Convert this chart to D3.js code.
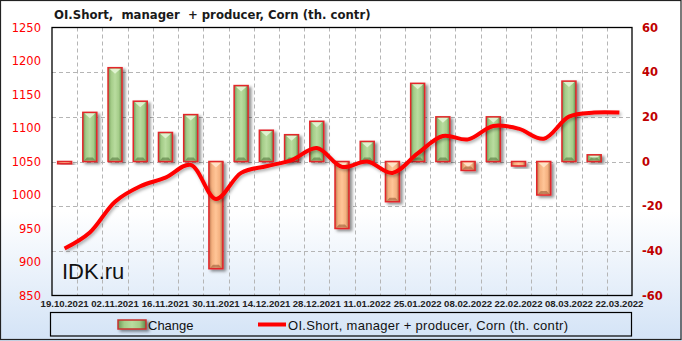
<!DOCTYPE html>
<html><head><meta charset="utf-8">
<script src="https://cdn.jsdelivr.net/npm/d3@7"></script>
<style>
html,body{margin:0;padding:0;background:#fff;}
svg{display:block;}
</style></head>
<body>
<script>
const dates = ["19.10.2021","26.10.2021","02.11.2021","09.11.2021","16.11.2021","23.11.2021","30.11.2021","07.12.2021","14.12.2021","21.12.2021","28.12.2021","04.01.2022","11.01.2022","18.01.2022","25.01.2022","01.02.2022","08.02.2022","15.02.2022","22.02.2022","01.03.2022","08.03.2022","15.03.2022","22.03.2022"];
const change = [-1,22,42,27,13,21,-48,34,14,12,18,-30,9,-18,35,20,-4,20,-2,-15,36,3,0];
const oi = [920,944,990,1013,1026,1045,994,1033,1043,1052,1070,1042,1050,1033,1062,1088,1083,1103,1099,1084,1117,1123,1123];
const leftTicks = [850,900,950,1000,1050,1100,1150,1200,1250];
const rightTicks = [-60,-40,-20,0,20,40,60];
const title = "OI.Short,  manager  + producer, Corn (th. contr)";
const legendBar = "Change";
const legendLine = "OI.Short, manager + producer, Corn (th. contr)";

const W = 682, H = 341;
const pl = 52, pr = 632, pt = 27.5, pb = 295.5;

const svg = d3.select("body").append("svg").attr("width", W).attr("height", H);
const defs = svg.append("defs");

const bg = defs.append("linearGradient").attr("id","bg").attr("x1",0).attr("y1",0).attr("x2",0).attr("y2",1);
bg.append("stop").attr("offset","0.62").attr("stop-color","#ffffff");
bg.append("stop").attr("offset","1").attr("stop-color","#d3e3f6");

function hgrad(id, stops){
  const g = defs.append("linearGradient").attr("id",id).attr("x1",0).attr("y1",0).attr("x2",1).attr("y2",0);
  stops.forEach(s=>g.append("stop").attr("offset",s[0]).attr("stop-color",s[1]));
}
hgrad("gGreen",[[0,"#6e9657"],[0.22,"#a4cc88"],[0.5,"#b9dc9f"],[0.78,"#a4cc88"],[1,"#5f8749"]]);
hgrad("gOrange",[[0,"#b8734b"],[0.22,"#f4b07f"],[0.5,"#ffc597"],[0.78,"#f4b07f"],[1,"#a9653f"]]);

const sh = defs.append("filter").attr("id","shadow").attr("x","-50%").attr("y","-50%").attr("width","200%").attr("height","200%");
sh.append("feDropShadow").attr("dx",2.5).attr("dy",2).attr("stdDeviation",1.8).attr("flood-color","#000").attr("flood-opacity",0.45);
const sh2 = defs.append("filter").attr("id","lshadow").attr("x","-10%").attr("y","-50%").attr("width","120%").attr("height","200%");
sh2.append("feDropShadow").attr("dx",1.5).attr("dy",2).attr("stdDeviation",1.5).attr("flood-color","#000").attr("flood-opacity",0.3);

// background + outer border
svg.append("rect").attr("x",0).attr("y",0).attr("width",W).attr("height",H).attr("fill","url(#bg)");
svg.append("rect").attr("x",0.5).attr("y",0.5).attr("width",W-1.5).attr("height",H-2).attr("fill","none").attr("stroke","#222").attr("stroke-width",1.2);

const x = d3.scaleBand().domain(dates).range([pl, pr]).padding(0);
const yL = d3.scaleLinear().domain([850,1250]).range([pb, pt]);
const yR = d3.scaleLinear().domain([-60,60]).range([pb, pt]);
const bw = 14;

// grid
const grid = svg.append("g").attr("stroke","#b5b5b5").attr("stroke-width",1).attr("stroke-dasharray","4,3");
rightTicks.filter(t=>t>-60 && t<60).forEach(t=>{
  grid.append("line").attr("x1",pl).attr("x2",pr).attr("y1",Math.round(yR(t))+0.5).attr("y2",Math.round(yR(t))+0.5);
});
dates.slice(1).forEach(d=>{
  const xx = Math.round(x(d))+0.5;
  grid.append("line").attr("x1",xx).attr("x2",xx).attr("y1",pt).attr("y2",pb);
});

// watermark
svg.append("text").attr("x",62).attr("y",279).attr("font-family","'Liberation Sans', Arial, sans-serif")
  .attr("font-size",22).attr("fill","#111").text("IDK.ru");

// bars
const bars = svg.append("g");
dates.forEach((d,i)=>{
  const v = change[i];
  if (v === 0) return;
  const cx = x(d) + x.bandwidth()/2;
  const y0 = yR(0), y1 = yR(v);
  const top = Math.min(y0,y1), h = Math.abs(y1-y0);
  const pos = v > 0;
  const g = bars.append("g").attr("filter","url(#shadow)");
  g.append("rect").attr("x",cx-bw/2).attr("y",top).attr("width",bw).attr("height",h)
    .attr("fill", pos ? "url(#gGreen)" : "url(#gOrange)");
  if (h > 6) {
    const tri = Math.min(5, h/2);
    g.append("path").attr("d",`M${cx-bw/2+1.5},${top+1} L${cx+bw/2-1.5},${top+1} L${cx},${top+1+tri} Z`)
      .attr("fill", pos ? "#e4f5d6" : "#ffe6cc").attr("opacity",0.9);
    g.append("path").attr("d",`M${cx-bw/2+1.5},${top+h-1} L${cx+bw/2-1.5},${top+h-1} L${cx+bw/2-4},${top+h-4} L${cx-bw/2+4},${top+h-4} Z`)
      .attr("fill", pos ? "#557a40" : "#9a5a36").attr("opacity",0.6);
  }
  g.append("rect").attr("x",cx-bw/2).attr("y",top).attr("width",bw).attr("height",h)
    .attr("fill","none").attr("stroke","#e3262a").attr("stroke-width",1.5);
});

// line
const line = d3.line().x((d,i)=>x(dates[i])+x.bandwidth()/2).y(d=>yL(d)).curve(d3.curveCatmullRom.alpha(0.5));
svg.append("path").datum(oi).attr("d",line).attr("fill","none").attr("stroke","#ff0000")
  .attr("stroke-width",4).attr("stroke-linejoin","round").attr("filter","url(#lshadow)");

// frame
svg.append("rect").attr("x",pl).attr("y",pt).attr("width",pr-pl).attr("height",pb-pt)
  .attr("fill","none").attr("stroke","#000").attr("stroke-width",1.3);

// left axis
const la = svg.append("g").attr("font-family","'DejaVu Sans', Verdana, sans-serif").attr("font-size",11.5).attr("fill","#ff0000").attr("text-anchor","end");
leftTicks.forEach(t=>la.append("text").attr("x",41).attr("y",yL(t)+4.2).text(t));

// right axis
const ra = svg.append("g").attr("font-family","'DejaVu Sans', Verdana, sans-serif").attr("font-size",11.5).attr("font-weight","bold").attr("fill","#c00000").attr("text-anchor","start");
rightTicks.forEach(t=>ra.append("text").attr("x",642).attr("y",yR(t)+4.3).text(t));

// x labels
const xa = svg.append("g").attr("font-family","'Liberation Sans', Arial, sans-serif").attr("font-size",9.6).attr("font-weight","bold").attr("fill","#222").attr("text-anchor","middle");
dates.forEach((d,i)=>{ if (i%2===0) xa.append("text").attr("x",x(d)+x.bandwidth()/2).attr("y",306.5).text(d); });

// title
svg.append("text").attr("x",54).attr("y",18.5).attr("font-family","'DejaVu Sans', Verdana, sans-serif")
  .attr("font-size",11.7).attr("font-weight","bold").attr("fill","#1a1a1a").style("white-space","pre").text(title);

// legend
svg.append("rect").attr("x",50.5).attr("y",312.5).attr("width",581).attr("height",23.5).attr("fill","none").attr("stroke","#000").attr("stroke-width",1.2);
const lg = svg.append("g");
const sw = lg.append("g").attr("filter","url(#shadow)");
sw.append("rect").attr("x",118).attr("y",320).attr("width",28).attr("height",9).attr("fill","url(#gGreen)").attr("stroke","#c8302f").attr("stroke-width",1.5);
lg.append("text").attr("x",148).attr("y",329.5).attr("font-family","'Liberation Sans', Arial, sans-serif").attr("font-size",13).attr("fill","#111").text(legendBar);
lg.append("line").attr("x1",258).attr("x2",286).attr("y1",324.5).attr("y2",324.5).attr("stroke","#ff0000").attr("stroke-width",4);
lg.append("text").attr("x",288).attr("y",329.5).attr("font-family","'Liberation Sans', Arial, sans-serif").attr("font-size",13).attr("textLength",280).attr("lengthAdjust","spacing").attr("fill","#111").text(legendLine);
</script>
</body></html>
